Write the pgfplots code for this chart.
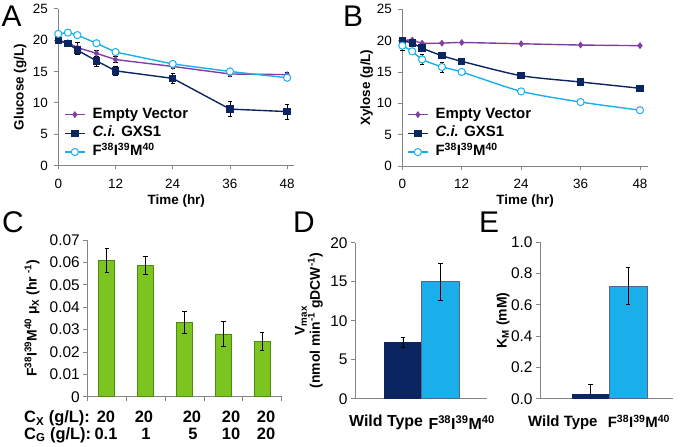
\documentclass[border=0pt]{standalone}
\usepackage{pgfplots}
\pgfplotsset{compat=1.18}
\usepackage{fontspec}
\setmainfont{Liberation Sans}
\newcommand\fs[1]{\fontsize{#1}{#1}\selectfont}
\definecolor{evpurple}{HTML}{7F3FA0}
\definecolor{navy}{HTML}{0B2560}
\definecolor{lblue}{HTML}{1AAFEA}
\definecolor{fgreen}{HTML}{7CC420}
\definecolor{dgreen}{HTML}{4E8A12}
\definecolor{axgray}{HTML}{858585}
\newcommand\FIM{F\textsuperscript{38}I\textsuperscript{39}M\textsuperscript{40}}

\pgfplotsset{
  base/.style={
    scale only axis, anchor=south west,
    axis lines=left, axis line style={-, axgray, line width=0.8pt},
    tick align=outside, major tick length=4bp,
    tick style={axgray, line width=0.8pt},
    /pgf/number format/assume math mode=true,
    clip=false,
  },
  errs/.style={error bars/y dir=both, error bars/y explicit,
     error bars/error bar style={black, line width=0.6pt},
     error bars/error mark options={rotate=90, black, mark size=2.2bp, line width=0.6pt}},
  ts/.style={base,
    width=236bp, height=156.7bp,
    xmin=0, ymin=0, ymax=25,
    xtick={0,12,24,36,48}, ytick={0,5,10,15,20,25},
    ticklabel style={font=\fs{13.5}, text=black},
    xticklabel style={yshift=-6bp},
    yticklabel style={xshift=-3bp},
    label style={font=\bfseries\fs{13.5}},
    xlabel={Time (hr)},
    legend cell align=left,
    legend image code/.code={\draw[mark repeat=2,mark phase=2,##1] plot coordinates {(0bp,0bp)(10bp,0bp)(20bp,0bp)};},
  },
  lg/.style={legend style={draw=none, fill=none, inner sep=0pt, anchor=north west,
     font=\bfseries\fs{15}, row sep=1.7bp,
     nodes={inner sep=1bp, text height=11bp, text depth=4bp},
     /tikz/every odd column/.append style={column sep=6bp}}},
  ev/.style={evpurple, line width=1.4pt, mark=diamond*, mark size=2.4pt, mark options={solid, fill=evpurple}},
  gx/.style={navy, line width=1.4pt, mark=square*, mark size=3pt, mark options={solid, fill=navy}},
  fm/.style={lblue, line width=1.4pt, mark=*, mark size=3.6pt, mark options={solid, fill=white, draw=lblue, line width=1pt}},
}

\begin{document}
\begin{tikzpicture}
\path[use as bounding box] (0,0) rectangle (680bp,447bp);

% ---------- A ----------
\begin{axis}[ts, at={(58.3bp,281.5bp)}, xmax=49.5,
  ylabel={Glucose (g/L)},
  ylabel style={at={(axis description cs:-0.162,0.5)}, anchor=center},
  xlabel style={at={(axis description cs:0.5,-0.228)}, anchor=center},
  lg, legend style={at={(axis description cs:0.024,0.38)}}]
\addplot+[ev, errs] table[x=t, y=v, y error=e] {
t v e
0 20.0 0.2
2 19.6 0.3
4 18.8 0.8
8 17.9 0.5
12 16.9 0.5
24 15.8 0.3
36 14.6 0.4
48 14.5 0.3
};
\addlegendentry{Empty Vector}
\addplot+[gx, errs] table[x=t, y=v, y error=e] {
t v e
0 19.9 0.3
2 19.5 0.4
4 18.4 0.6
8 16.7 0.8
12 15.1 0.7
24 13.9 0.8
36 9.0 1.2
48 8.6 1.2
};
\addlegendentry{\textit{C.i.} GXS1}
\addplot+[fm] table[x=t, y=v] {
t v
0 21.0
2 21.2
4 20.8
8 19.5
12 18.1
24 16.2
36 15.0
48 14.0
};
\addlegendentry{\FIM}
\end{axis}

% ---------- B ----------
\begin{axis}[ts, at={(402.3bp,281bp)}, xmax=49.6, width=245.6bp,
  ylabel={Xylose (g/L)},
  ylabel style={at={(axis description cs:-0.145,0.5)}, anchor=center},
  xlabel style={at={(axis description cs:0.5,-0.224)}, anchor=center},
  lg, legend style={at={(axis description cs:0.019,0.383)}}]
\addplot+[ev, smooth, tension=0.4] table[x=t, y=v] {
t v
0 20.0
2 20.1
4 19.6
8 19.6
12 19.7
24 19.5
36 19.3
48 19.2
};
\addlegendentry{Empty Vector}
\addplot+[gx, smooth, tension=0.4, errs] table[x=t, y=v, y error=e] {
t v e
0 20.0 0.2
2 19.6 0.3
4 18.8 0.4
8 17.6 0.3
12 16.7 0.2
24 14.4 0.2
36 13.4 0.2
48 12.4 0.2
};
\addlegendentry{\textit{C.i.} GXS1}
\addplot+[fm, smooth, tension=0.4, errs] table[x=t, y=v, y error=e] {
t v e
0 19.2 0.7
2 18.3 0.3
4 17.0 0.8
8 15.8 0.8
12 15.0 0.2
24 11.9 0.2
36 10.2 0.2
48 8.9 0.2
};
\addlegendentry{\FIM}
\end{axis}

% ---------- C ----------
\begin{axis}[base, at={(87.3bp,50.3bp)}, width=194.4bp, height=156.7bp,
  xmin=-0.5, xmax=4.5, ymin=0, ymax=0.07,
  xtick={-0.5,0.5,1.5,2.5,3.5,4.5}, xticklabels={},
  ytick={0,0.01,0.02,0.03,0.04,0.05,0.06,0.07},
  scaled y ticks=false,
  yticklabel style={font=\fs{15.5}, text=black, /pgf/number format/.cd, fixed, precision=2},
  ylabel={\FIM\ μ\textsubscript{X} (hr\textsuperscript{ -1})},
  ylabel style={at={(axis description cs:-0.284,0.5)}, anchor=center, font=\bfseries\fs{14}},
  ybar, bar width=16bp]
\addplot+[fill=fgreen, draw=dgreen, line width=0.5pt, bar shift=0pt, errs] table[x=c, y=v, y error=e] {
c v e
0 0.0609 0.0053
1 0.0585 0.0040
2 0.0332 0.0049
3 0.0281 0.0055
4 0.0247 0.0040
};
\end{axis}

% ---------- D ----------
\begin{axis}[base, at={(355bp,48.3bp)}, width=131.7bp, height=156bp,
  xmin=-1.28, xmax=2.24, ymin=0, ymax=20,
  xtick={-0.45,1.57}, xticklabels={Wild Type, \FIM},
  xtick style={draw=none},
  xticklabel style={font=\bfseries\fs{16}, text=black, yshift=-9bp},
  ytick={0,5,10,15,20},
  yticklabel style={font=\fs{15.5}, text=black},
  ylabel={V\textsubscript{max}\\(nmol min\textsuperscript{-1} gDCW\textsuperscript{-1})},
  ylabel style={at={(axis description cs:-0.35,0.5)}, anchor=center, align=center, font=\bfseries\fs{14}},
  ybar, bar width=37.4bp]
\addplot+[fill=navy, draw=navy, line width=0.5pt, bar shift=0pt, errs] coordinates {(0,7.24) +- (0,0.6)};
\addplot+[fill=lblue, draw=navy!70, line width=0.5pt, bar shift=0pt, errs] coordinates {(1,15.0) +- (0,2.35)};
\end{axis}

% ---------- E ----------
\begin{axis}[base, at={(540bp,48.3bp)}, width=133bp, height=156.6bp,
  xmin=-1.35, xmax=2.2, ymin=0, ymax=1.0,
  xtick={-0.74,1.29}, xticklabels={Wild Type, \FIM},
  xtick style={draw=none},
  xticklabel style={font=\bfseries\fs{15}, text=black, yshift=-9bp},
  ytick={0,0.2,0.4,0.6,0.8,1.0},
  yticklabel style={font=\fs{15.5}, text=black, /pgf/number format/.cd, fixed, fixed zerofill, precision=1},
  ylabel={K\textsubscript{M} (mM)},
  ylabel style={at={(axis description cs:-0.278,0.5)}, anchor=center, font=\bfseries\fs{14}},
  ybar, bar width=37.4bp]
\addplot+[fill=navy, draw=navy, line width=0.5pt, bar shift=0pt, errs, error bars/y dir=plus] coordinates {(0,0.028) +- (0,0.065)};
\addplot+[fill=lblue, draw=navy!70, line width=0.5pt, bar shift=0pt, errs] coordinates {(1,0.721) +- (0,0.117)};
\end{axis}

% ---------- C category labels ----------
\begin{scope}[every node/.style={font=\bfseries\fs{16.5}, inner sep=0pt}]
\node[anchor=base west] at (24bp,24.3bp) {C\textsubscript{X} (g/L):};
\node[anchor=base west] at (24bp,7.7bp) {C\textsubscript{G} (g/L):};
\node[anchor=base] at (106bp,24.3bp) {20};
\node[anchor=base] at (144bp,24.3bp) {20};
\node[anchor=base] at (192bp,24.3bp) {20};
\node[anchor=base] at (231bp,24.3bp) {20};
\node[anchor=base] at (266bp,24.3bp) {20};
\node[anchor=base] at (106bp,7.7bp) {0.1};
\node[anchor=base] at (146bp,7.7bp) {1};
\node[anchor=base] at (193bp,7.7bp) {5};
\node[anchor=base] at (231bp,7.7bp) {10};
\node[anchor=base] at (266bp,7.7bp) {20};
\end{scope}

% ---------- panel letters ----------
\begin{scope}[every node/.style={font=\fs{30}, inner sep=0pt, anchor=base west}]
\node at (1.5bp,420bp) {A};
\node at (343bp,420bp) {B};
\node at (2bp,214bp) {C};
\node at (293bp,214bp) {D};
\node at (479bp,214bp) {E};
\end{scope}
\end{tikzpicture}
\end{document}
